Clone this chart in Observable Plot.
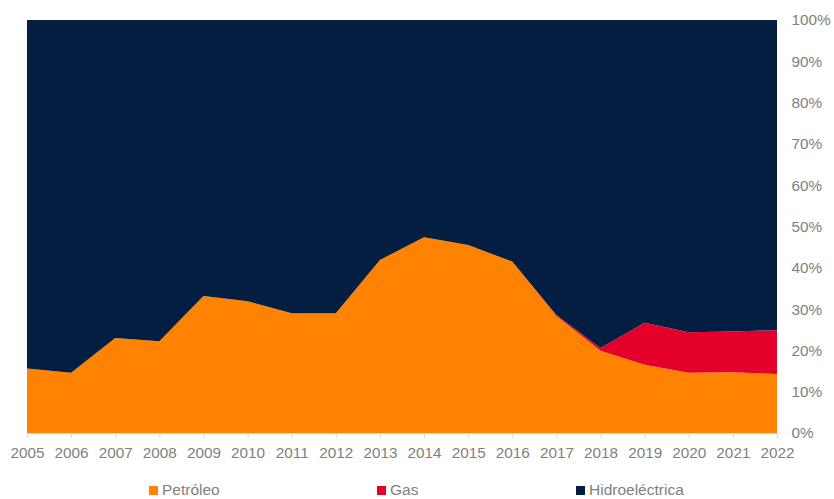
<!DOCTYPE html>
<html>
<head>
<meta charset="utf-8">
<script src="https://cdn.jsdelivr.net/npm/d3@7"></script>
<script src="https://cdn.jsdelivr.net/npm/@observablehq/plot@0.6"></script>
<style>
  html, body { margin: 0; padding: 0; background: #fff; }
  #wrap { position: relative; width: 834px; height: 499px; font-family: "Liberation Sans", Arial, sans-serif; }
  .leg { position: absolute; top: 481px; height: 18px; line-height: 18px; display: flex; align-items: center; font-size: 15.5px; color: #7f7f7f; }
  .sw { width: 9px; height: 9px; margin-right: 4px; }
</style>
</head>
<body>
<div id="wrap"></div>
<script>
const years = [2005,2006,2007,2008,2009,2010,2011,2012,2013,2014,2015,2016,2017,2018,2019,2020,2021,2022];
const petroleo = [15.6,14.6,23.0,22.2,33.2,31.9,29.0,29.0,41.9,47.4,45.5,41.5,28.3,19.9,16.5,14.6,14.7,14.3];
const gas      = [0,0,0,0,0,0,0,0,0,0,0,0,0.3,0.7,10.2,9.8,9.9,10.6];
const seriesNames = ["Petróleo","Gas","Hidroeléctrica"];
const colors = ["#FF8200","#E4002B","#041E42"];
const yTicks = [0,10,20,30,40,50,60,70,80,90,100];

const rows = [];
years.forEach((yr, i) => {
  const hydro = 100 - petroleo[i] - gas[i];
  rows.push({year: yr, serie: seriesNames[0], value: petroleo[i]});
  rows.push({year: yr, serie: seriesNames[1], value: gas[i]});
  rows.push({year: yr, serie: seriesNames[2], value: hydro});
});

const chart = Plot.plot({
  width: 834,
  height: 470,
  marginTop: 20,
  marginBottom: 37,
  marginLeft: 27,
  marginRight: 57,
  style: {fontFamily: "'Liberation Sans', Arial, sans-serif", fontSize: "15.3px", color: "#7f7f7f", background: "#fff"},
  x: {domain: [2005, 2022], ticks: years, tickFormat: d => String(d), label: null},
  y: {domain: [0, 100], ticks: yTicks, tickFormat: d => d + "%", label: null},
  color: {domain: seriesNames, range: colors},
  marks: [
    Plot.areaY(rows, Plot.stackY({order: seriesNames}, {x: "year", y: "value", fill: "serie", z: "serie"})),
    Plot.ruleY([0], {stroke: "#d9d9d9", strokeWidth: 1}),
    Plot.axisX({ticks: years, tickFormat: d => String(d), tickSize: 5, tickPadding: 9, stroke: "#d9d9d9", fill: "#7f7f7f", fontSize: 15.3, label: null}),
    Plot.axisY({anchor: "right", ticks: yTicks, tickFormat: d => d + "%", tickSize: 0, tickPadding: 14, fill: "#7f7f7f", fontSize: 15.3, label: null})
  ]
});

const wrap = document.getElementById("wrap");
wrap.appendChild(chart);

const legX = [149, 377, 576];
seriesNames.forEach((n, i) => {
  const d = document.createElement("div");
  d.className = "leg";
  d.style.left = legX[i] + "px";
  d.innerHTML = `<span class="sw" style="background:${colors[i]}"></span><span>${n}</span>`;
  wrap.appendChild(d);
});
</script>
</body>
</html>
